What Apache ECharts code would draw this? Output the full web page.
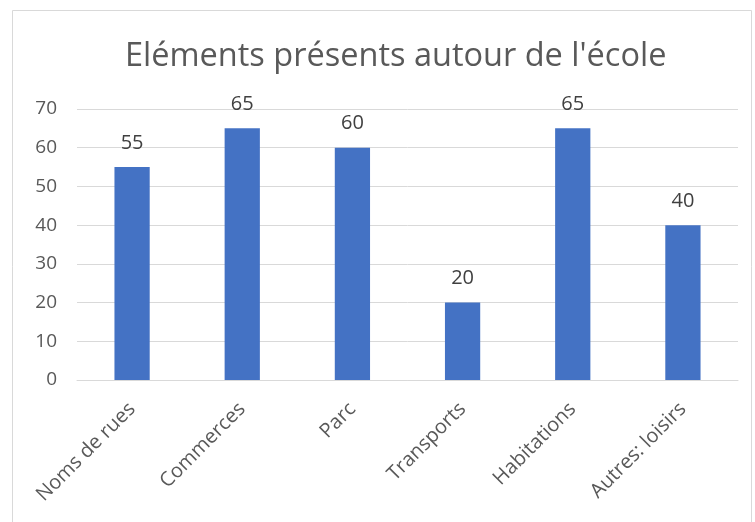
<!DOCTYPE html>
<html>
<head>
<meta charset="utf-8">
<script src="https://cdn.jsdelivr.net/npm/echarts@6/dist/echarts.min.js"></script>
<style>
  html, body { margin: 0; padding: 0; background: #fff; }
  #chart { width: 755px; height: 522px; }
</style>
</head>
<body>
<div id="chart"></div>
<script>
// Chart data
const categories = ['Noms de rues', 'Commerces', 'Parc', 'Transports', 'Habitations', 'Autres: loisirs'];
const values = [55, 65, 60, 20, 65, 40];

const FONT = 'Open Sans, Liberation Sans, sans-serif';

const chart = echarts.init(document.getElementById('chart'));

chart.setOption({
  backgroundColor: '#FFFFFF',
  animation: false,
  // light frame around the chart area, like the original export
  graphic: [{
    type: 'rect',
    shape: { x: 12.5, y: 10.5, width: 739, height: 530 },
    style: { fill: 'none', stroke: '#D9D9D9', lineWidth: 1 },
    silent: true,
  }],
  title: {
    text: "Eléments présents autour de l'école",
    left: 120,
    top: 35,
    textStyle: { color: '#595959', fontSize: 32.5, fontWeight: 'normal', fontFamily: FONT },
  },
  grid: { left: 77, right: 17, top: 109, bottom: 142, containLabel: false },
  xAxis: {
    type: 'category',
    data: categories,
    axisTick: { show: false },
    axisLine: { lineStyle: { color: '#D9D9D9' } },
    axisLabel: {
      rotate: 45,
      interval: 0,
      margin: 26,
      color: '#595959',
      fontSize: 20,
      fontFamily: FONT,
    },
  },
  yAxis: {
    type: 'value',
    min: 0,
    max: 70,
    interval: 10,
    axisLine: { show: false },
    axisTick: { show: false },
    axisLabel: { color: '#595959', fontSize: 19, fontFamily: FONT, margin: 20 },
    splitLine: { lineStyle: { color: '#D9D9D9' } },
  },
  series: [{
    type: 'bar',
    data: values,
    barWidth: '32%',
    itemStyle: { color: '#4472C4' },
    label: {
      show: true,
      position: 'top',
      distance: 14,
      color: '#404040',
      fontSize: 20,
      fontFamily: FONT,
    },
  }],
});
</script>
</body>
</html>
